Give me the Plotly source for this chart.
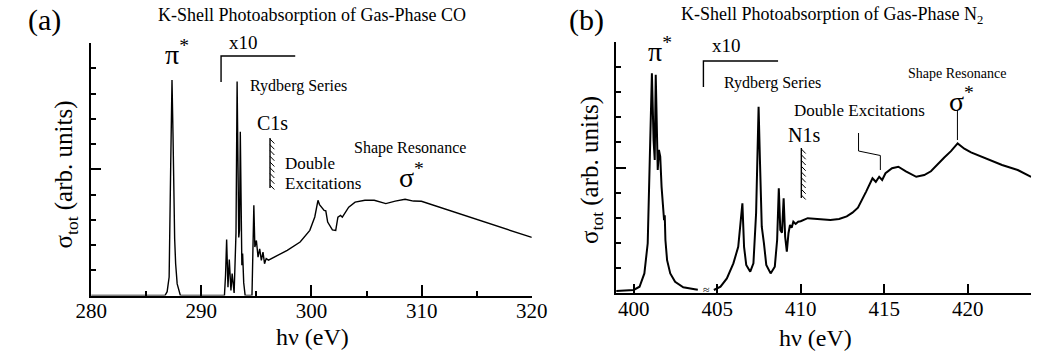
import plotly.graph_objects as go

W, H = 1051, 358
SERIF = "Times New Roman, Liberation Serif, Times, serif"

# ---------------- data ----------------
# Panel (a): K-shell photoabsorption of gas-phase CO
co_energy = [280.0, 286.7, 286.9, 287.08, 287.22, 287.34, 287.43, 287.52, 287.58, 287.67, 287.81, 288.1,
             292.1, 292.2, 292.3, 292.42, 292.54, 292.69, 292.8, 292.98, 293.15, 293.25, 293.4, 293.47,
             293.54, 293.68, 293.75, 293.85, 293.98, 294.6, 294.7, 294.77, 294.86, 295.0, 295.15, 295.3,
             295.45, 295.6, 295.74, 295.89, 296.1, 296.6, 297.8, 298.97, 299.85, 300.3, 300.59, 300.73,
             300.88, 301.03, 301.15, 301.3, 301.47, 301.9, 302.2, 302.4, 302.64, 302.8, 303.38, 303.96,
             304.85, 305.7, 306.75, 307.6, 308.5, 309.25, 309.98, 320.0]
co_sigma = [0.0, 0.0, 0.15, 0.73, 5.09, 8.53, 6.42, 2.45, 2.25, 1.26, 0.46, 0.0,
            0.0, 0.8, 2.22, 0.33, 1.42, 0.2, 0.87, 0.1, 2.5, 8.47, 2.3, 2.6,
            6.48, 1.2, 1.66, 0.5, 0.0, 0.0, 2.0, 3.57, 1.92, 2.18, 1.52, 1.85,
            1.39, 1.72, 1.26, 1.46, 1.4, 1.52, 1.79, 2.12, 2.58, 3.11, 3.77, 3.6,
            3.5, 3.45, 3.37, 3.35, 2.91, 2.6, 2.58, 3.1, 3.17, 3.1, 3.5, 3.7,
            3.77, 3.77, 3.64, 3.74, 3.81, 3.74, 3.73, 2.3]

# Panel (b): K-shell photoabsorption of gas-phase N2 (two segments around the axis break)
n2_energy_1 = [398.95, 399.6, 400.0, 400.35, 400.64, 400.84, 400.97, 401.09, 401.19, 401.26, 401.32,
               401.4, 401.44, 401.51, 401.59, 401.67, 401.74, 401.82, 401.86, 401.9, 402.0, 402.19,
               402.48, 402.97, 403.65, 403.84]
n2_sigma_1 = [0.08, 0.1, 0.12, 0.25, 0.78, 1.98, 5.3, 8.75, 6.1, 5.3, 8.69,
              6.36, 4.9, 5.7, 5.43, 4.23, 3.57, 2.9, 3.1, 2.11, 1.31, 0.78,
              0.45, 0.23, 0.15, 0.13]
n2_energy_2 = [404.8, 405.2, 405.58, 405.97, 406.26, 406.4, 406.51, 406.61, 406.74, 406.98, 407.17,
               407.33, 407.42, 407.48, 407.56, 407.67, 407.8, 407.94, 408.2, 408.45, 408.59, 408.69,
               408.78, 408.88, 408.98, 409.07, 409.17, 409.27, 409.36, 409.46, 409.56, 409.7, 409.85,
               410.0, 410.42, 411.0, 411.78, 412.3, 412.76, 413.1, 413.43, 413.92, 414.3, 414.5,
               414.7, 414.88, 415.08, 415.47, 415.85, 416.3, 416.92, 417.4, 417.8, 418.6, 419.0,
               419.4, 419.8, 420.2, 421.08, 422.06, 423.0, 423.8]
n2_sigma_2 = [0.12, 0.25, 0.58, 1.18, 1.84, 2.9, 3.57, 1.84, 1.12, 0.85, 1.18,
              3.18, 6.63, 7.42, 5.3, 2.64, 1.98, 1.12, 0.78, 1.05, 2.11, 4.17,
              2.51, 2.4, 3.77, 2.24, 1.65, 2.38, 2.71, 2.6, 2.84, 2.75, 2.84,
              2.86, 2.98, 2.95, 2.91, 2.95, 3.05, 3.2, 3.4, 4.04, 4.57, 4.43,
              4.63, 4.5, 4.77, 4.97, 5.03, 4.85, 4.63, 4.7, 4.85, 5.4, 5.65,
              5.96, 5.75, 5.6, 5.37, 5.1, 4.9, 4.63]

n2_energy = n2_energy_1 + [None] + n2_energy_2
n2_sigma = n2_sigma_1 + [None] + n2_sigma_2

# ---------------- figure ----------------
fig = go.Figure()
fig.add_trace(go.Scatter(x=co_energy, y=co_sigma, mode="lines",
                         line=dict(color="black", width=1.4), xaxis="x", yaxis="y",
                         showlegend=False, hoverinfo="skip"))
fig.add_trace(go.Scatter(x=n2_energy, y=n2_sigma, mode="lines", connectgaps=False,
                         line=dict(color="black", width=2), xaxis="x2", yaxis="y2",
                         showlegend=False, hoverinfo="skip"))


def px(x):
    return x / W


def py(y):
    return 1 - y / H


axis_common = dict(showline=True, linecolor="black", linewidth=1.5, showgrid=False, zeroline=False,
                   ticks="inside", tickcolor="black", tickwidth=1.5, mirror=False)

tick_font = dict(family=SERIF, size=21, color="black")

fig.update_layout(
    width=W, height=H, margin=dict(l=0, r=0, t=0, b=0),
    paper_bgcolor="white", plot_bgcolor="white",
    font=dict(family=SERIF, color="black"),
    xaxis=dict(domain=[px(77.5), px(532)], range=[280, 320], anchor="y", tick0=280, dtick=10,
               ticklen=11, tickfont=tick_font, ticklabelstandoff=-4,
               minor=dict(ticks="inside", dtick=5, ticklen=5, tickwidth=1.5, tickcolor="black"),
               **axis_common),
    yaxis=dict(domain=[py(295.5), py(43)], range=[0, 10], anchor="x", tick0=0, dtick=5, ticklen=10,
               showticklabels=False,
               minor=dict(ticks="inside", dtick=1, ticklen=5, tickwidth=1.5, tickcolor="black"),
               **axis_common),
    xaxis2=dict(domain=[px(619), px(1047)], range=[398.95, 423.8], anchor="y2", tick0=400, dtick=5,
                ticklen=9, tickfont=tick_font, ticklabelstandoff=-4, **axis_common),
    yaxis2=dict(domain=[py(293), py(42)], range=[0, 10], anchor="x2", tick0=0, dtick=5, ticklen=10,
                showticklabels=False,
                minor=dict(ticks="inside", dtick=1, ticklen=5, tickwidth=1.5, tickcolor="black"),
                **axis_common),
)

annotations = []


def text(x, y, s, size, xanchor="center", angle=0):
    annotations.append(dict(x=px(x), y=py(y), xref="paper", yref="paper", text=s, showarrow=False,
                            xanchor=xanchor, yanchor="middle", textangle=angle,
                            font=dict(family=SERIF, size=size, color="black")))


# panel (a)
text(29, 20, "(a)", 30)
text(305, 15, "K-Shell Photoabsorption of Gas-Phase CO", 18)
text(166, 53, "π<sup>*</sup>", 28)
text(235, 43, "x10", 19)
text(291, 86, "Rydberg Series", 16)
text(265, 123, "C1s", 20)
text(275, 163, "Double", 17, xanchor="left")
text(275, 183, "Excitations", 17, xanchor="left")
text(406, 148, "Shape Resonance", 16)
text(408, 175, "σ<sup>*</sup>", 28)
text(51, 174, "σ<sub>tot</sub> (arb. units)", 25, angle=-90)
text(306, 337, "hν (eV)", 24)

# panel (b)
text(588, 20, "(b)", 30)
text(842, 15, "K-Shell Photoabsorption of Gas-Phase N<sub>2</sub>", 18)
text(664, 49, "π<sup>*</sup>", 28)
text(733, 45, "x10", 19)
text(780, 83, "Rydberg Series", 16)
text(870, 111, "Double Excitations", 17)
text(813, 135, "N1s", 20)
text(971, 73, "Shape Resonance", 14)
text(975, 99, "σ<sup>*</sup>", 28)
text(593, 170, "σ<sub>tot</sub> (arb. units)", 25, angle=-90)
text(825, 338, "hν (eV)", 24)

# break mark on panel (b) axis
text(712, 290, "≈", 12)

fig.update_layout(annotations=annotations)

shapes = []


def seg(points, width=1.2):
    path = "M " + " L ".join(f"{px(a)},{py(b)}" for a, b in points)
    shapes.append(dict(type="path", xref="paper", yref="paper", path=path,
                       line=dict(color="black", width=width)))


def hatch(x, y0, y1):
    seg([(x, y0), (x, y1)], 1.4)
    n = 9
    step = (y1 - y0 - 4) / (n - 1)
    for i in range(n):
        yy = y0 + 1 + i * step
        seg([(x, yy), (x + 4.5, yy + 4.5)], 1.0)


# panel (a) bracket & hatch
seg([(211.5, 82), (211.5, 56), (288, 56)], 1.4)
hatch(262, 138, 188)
# panel (b) bracket, hatch, pointers
seg([(709, 87), (709, 61), (786, 61)], 1.4)
hatch(810, 148, 198)
seg([(869, 133), (869, 151), (891.5, 155.5), (891.5, 170)], 1.0)
seg([(971, 110), (971, 140)], 1.0)

fig.update_layout(shapes=shapes)

fig.write_html("out.html")
